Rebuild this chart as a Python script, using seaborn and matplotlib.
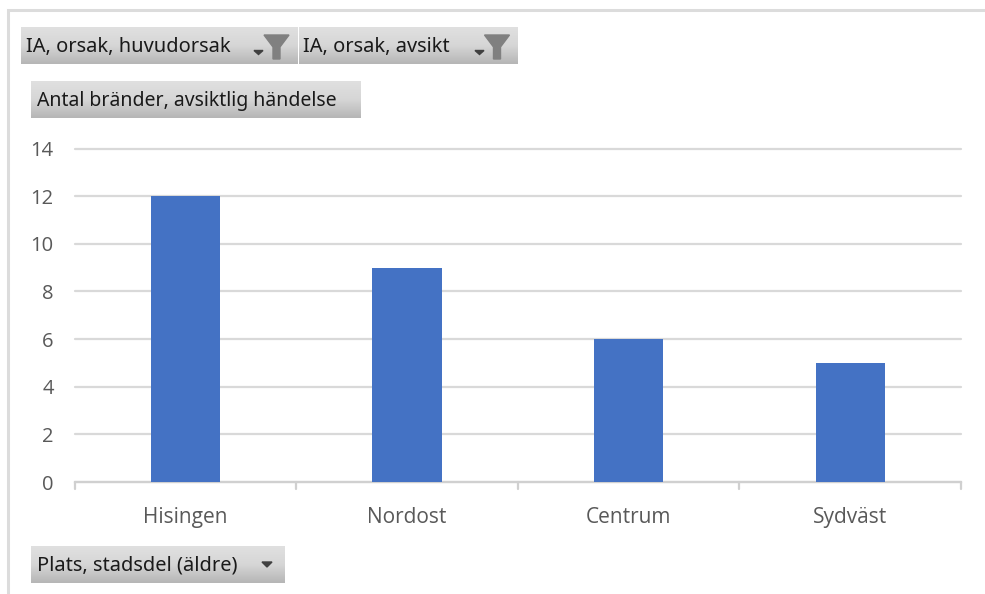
import numpy as np
import pandas as pd
import matplotlib
matplotlib.use('Agg')
import matplotlib.pyplot as plt
from matplotlib.patches import Polygon, Rectangle
import seaborn as sns

stadsdelar = ['Hisingen', 'Nordost', 'Centrum', 'Sydväst']
antal = [12, 9, 6, 5]
y_ticks = [0, 2, 4, 6, 8, 10, 12, 14]

W, H = 985, 594

sns.set_theme(style='white')
plt.rcParams['font.family'] = ['Open Sans', 'DejaVu Sans']

fig = plt.figure(figsize=(W / 100, H / 100), dpi=100)


def px_rect(x0, y0, x1, y1):
    # pixel box (y from the top) -> figure fractions
    return [x0 / W, 1 - y1 / H, (x1 - x0) / W, (y1 - y0) / H]


ax = fig.add_axes(px_rect(74.5, 148.5, 961, 482))
df = pd.DataFrame({'stadsdel': stadsdelar, 'antal': antal})
sns.barplot(data=df, x='stadsdel', y='antal', color='#4472c4', saturation=1, width=0.312, linewidth=0, ax=ax, zorder=3)

ax.set_xlim(-0.5, 3.5)
ax.set_ylim(0, 14)
ax.set_yticks(y_ticks)
ax.set_xlabel('')
ax.set_ylabel('')
ax.grid(axis='y', color='#d9d9d9', linewidth=1.6, zorder=0)
for line in ax.get_ygridlines():
    line.set_clip_on(False)
ax.set_axisbelow(True)
sns.despine(ax=ax, left=True, top=True, right=True)
ax.spines['bottom'].set_color('#d0d0d0')
ax.spines['bottom'].set_linewidth(1.6)
ax.tick_params(axis='y', length=0, labelsize=14.5, labelcolor='#595959', pad=15)
ax.tick_params(axis='x', length=0, labelsize=15, labelcolor='#595959', pad=18)
# category separators on the axis line
for x in np.arange(-0.5, 4):
    ax.plot([x, x], [0, -0.3], color='#d0d0d0', lw=1.6, clip_on=False, zorder=2)

# window border
fig.add_artist(Rectangle((8 / W, 1 - 598 / H), 990 / W, 588 / H, fill=False, ec='#dcdcdc', lw=2.2,
                         transform=fig.transFigure))

gradient = np.linspace(0, 1, 40).reshape(-1, 1)
cmap = matplotlib.colors.LinearSegmentedColormap.from_list('btn', ['#e0e0e0', '#d6d6d6', '#b6b6b6'])


def button(x0, y0, x1, y1, label, text_x, arrow_x=None, funnel_x=None, size=14.4):
    b = fig.add_axes(px_rect(x0, y0, x1, y1))
    b.imshow(gradient, aspect='auto', cmap=cmap, extent=(x0, x1, y1, y0), vmin=0, vmax=1)
    b.set_xlim(x0, x1)
    b.set_ylim(y1, y0)
    b.axis('off')
    b.text(text_x, (y0 + y1) / 2 + 1.5, label, fontsize=size, color='#1a1a1a', va='center', ha='left',
           family=['Noto Sans', 'DejaVu Sans'])
    ym = (y0 + y1) / 2
    if arrow_x is not None:
        if funnel_x is None:
            b.add_patch(Polygon([[arrow_x - 5, ym - 2.5], [arrow_x + 5, ym - 2.5], [arrow_x, ym + 2.5]], color='#404040'))
        else:
            b.add_patch(Polygon([[arrow_x - 4.5, ym + 5], [arrow_x + 4.5, ym + 5], [arrow_x, ym + 9]], color='#404040'))
    if funnel_x is not None:
        t = y0 + 8
        b.add_patch(Polygon([[funnel_x - 12.5, t], [funnel_x + 12.5, t], [funnel_x + 3.5, t + 12], [funnel_x + 3.5, t + 24],
                             [funnel_x - 3.5, t + 24], [funnel_x - 3.5, t + 12]], color='#808080'))


button(21, 27, 297, 64, 'IA, orsak, huvudorsak', 26, arrow_x=258.5, funnel_x=276.5)
button(299, 27, 518, 64, 'IA, orsak, avsikt', 303, arrow_x=479.5, funnel_x=497)
button(31, 81, 361, 118, 'Antal bränder, avsiktlig händelse', 37, size=14)
button(31, 546, 285, 583, 'Plats, stadsdel (äldre)', 37, arrow_x=267)

fig.savefig('out.png', dpi=100)
